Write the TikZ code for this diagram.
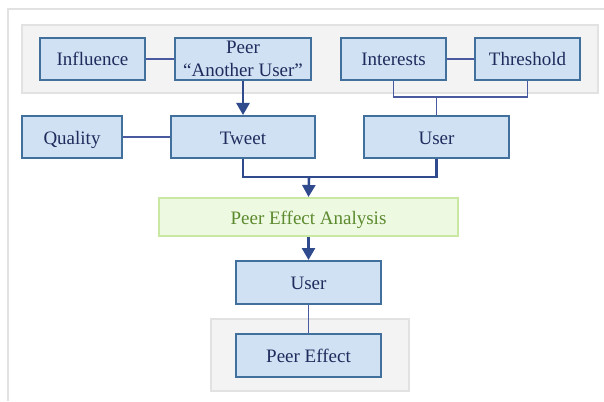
\documentclass[tikz,border=0pt]{standalone}
\usepackage{fontspec}
\setmainfont{Liberation Serif}
\usetikzlibrary{arrows.meta}
\definecolor{boxfill}{HTML}{D0E1F3}
\definecolor{boxline}{HTML}{41709C}
\definecolor{boxtext}{HTML}{1F2B5C}
\definecolor{wire}{HTML}{4A5AA0}
\definecolor{flow}{HTML}{2F4B8E}
\definecolor{groupfill}{HTML}{F3F3F3}
\definecolor{groupline}{HTML}{E2E2E2}
\definecolor{anafill}{HTML}{EEF9E2}
\definecolor{analine}{HTML}{C9E8A2}
\definecolor{anatext}{HTML}{5C8A2E}
\tikzset{
  entity/.style={draw=boxline, fill=boxfill, line width=2pt, text=boxtext,
    inner sep=0pt, minimum height=42pt, align=center,
    text height=16pt, text depth=2pt,
    font=\fontsize{19}{23}\selectfont},
  analysis/.style={draw=analine, fill=anafill, line width=2pt, text=anatext,
    inner sep=0pt, minimum width=299pt, minimum height=38pt,
    text height=16pt, text depth=2pt,
    font=\fontsize{19}{23}\selectfont},
  group/.style={draw=groupline, fill=groupfill, line width=2pt},
  wireline/.style={draw=wire, line width=1.1pt},
  flowline/.style={draw=flow, line width=2.6pt},
  flowarrow/.style={flowline, -{Triangle[width=13pt,length=12pt]}},
}
\begin{document}
\begin{tikzpicture}[x=1pt, y=-1pt]
\useasboundingbox (0,0) rectangle (604,401);
\fill[white] (0,0) rectangle (604,401);
% page frame
\draw[groupline, line width=2.5pt] (604,9) -- (8,9) -- (8,401);
% shaded groups
\path[group] (22,25) rectangle (598,93);
\path[group] (211,319) rectangle (409,391);
% top row
\node[entity, minimum width=105pt] (infl) at (92.5,59) {Influence};
\node[entity, minimum width=136pt, text height=38pt] (peer) at (243,59) {Peer\\“Another User”};
\node[entity, minimum width=105pt] (intr) at (393.5,59) {Interests};
\node[entity, minimum width=105pt] (thre) at (527.5,59) {Threshold};
% second row
\node[entity, minimum width=100pt] (qual) at (72,137) {Quality};
\node[entity, minimum width=144pt] (twt) at (243,137) {Tweet};
\node[entity, minimum width=145pt] (usr) at (436.5,137) {User};
% analysis and result
\node[analysis] (pea) at (308.5,217) {Peer Effect Analysis};
\node[entity, minimum width=145pt, minimum height=43pt] (usr2) at (308.5,282.5) {User};
\node[entity, minimum width=145pt, minimum height=43pt] (pe) at (308.5,355.5) {Peer Effect};
% joints
\coordinate (uj) at (436.5,97);
\coordinate (tj) at (309,177);
% thin links
\draw[wireline] (infl.east) -- (peer.west);
\draw[wireline] (intr.east) -- (thre.west);
\draw[wireline] (qual.east) -- (twt.west);
\draw[wireline] (intr.south) |- (uj) -| (thre.south);
\draw[wireline] (uj) -- (usr.north);
\draw[wireline] (usr2.south) -- (pe.north);
% flow
\draw[flowarrow] (peer.south) -- (twt.north);
\draw[flowline] (twt.south) |- (tj) -| (usr.south);
\draw[flowarrow] (tj) -- (pea.north);
\draw[flowarrow] (pea.south) -- (usr2.north);
\end{tikzpicture}
\end{document}
